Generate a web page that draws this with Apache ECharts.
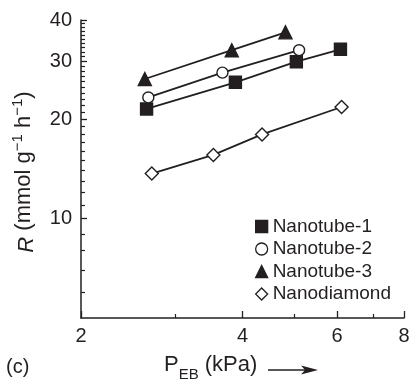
<!DOCTYPE html>
<html><head><meta charset="utf-8">
<script src="https://cdn.jsdelivr.net/npm/echarts@6/dist/echarts.min.js"></script>
<style>html,body{margin:0;padding:0;background:#fff}#c{width:413px;height:384px}</style>
</head><body><div id="c"></div>
<script>
const seriesNames = ['Nanotube-1', 'Nanotube-2', 'Nanotube-3', 'Nanodiamond'];
const nt1X = [2.65, 3.88, 5.04, 6.09];
const nt1Y = [21.5, 25.9, 29.9, 32.6];
const nt2X = [2.67, 3.67, 5.10];
const nt2Y = [23.3, 27.7, 32.4];
const nt3X = [2.63, 3.82, 4.81];
const nt3Y = [26.5, 32.4, 36.7];
const ndX = [2.71, 3.53, 4.35, 6.12];
const ndY = [13.7, 15.6, 18.0, 21.8];
const xMajorTicks = [2, 4, 6, 8];
const xMinorTicks = [3, 5, 7];
const yMajorTicks = [10, 20, 30, 40];
const yMinorTicks = [6, 7, 8, 9, 11, 12, 13, 14, 15, 16, 17, 18, 19, 21, 22, 23, 24, 25, 26, 27, 28, 29, 31, 32, 33, 34, 35, 36, 37, 38, 39];

const INK = '#231f20';
const FONT = 'Liberation Sans, Arial, Helvetica, sans-serif';
const pairs = (xs, ys) => xs.map((x, i) => [x, ys[i]]);

const chart = echarts.init(document.getElementById('c'), null, {renderer: 'canvas'});

const baseX = {type: 'log', logBase: 10, min: 2, max: 8, gridIndex: 0, position: 'bottom', splitLine: {show: false}, minorTick: {show: false}, minorSplitLine: {show: false}};
const baseY = {type: 'log', logBase: 10, min: 5, max: 40, gridIndex: 0, position: 'left', splitLine: {show: false}, minorTick: {show: false}, minorSplitLine: {show: false}};

const markerStyles = [
  {symbol: 'rect', size: 12, fill: INK},
  {symbol: 'circle', size: 11, fill: '#fff'},
  {symbol: 'triangle', size: 13, fill: INK},
  {symbol: 'diamond', size: 13, fill: '#fff'}
];
const dataSets = [pairs(nt1X, nt1Y), pairs(nt2X, nt2Y), pairs(nt3X, nt3Y), pairs(ndX, ndY)];

const series = seriesNames.map((name, i) => ({
  name: name,
  type: 'line',
  xAxisIndex: 0,
  yAxisIndex: 0,
  data: dataSets[i],
  symbol: markerStyles[i].symbol,
  symbolSize: markerStyles[i].size,
  showSymbol: true,
  lineStyle: {color: INK, width: 1.8},
  itemStyle: {color: markerStyles[i].fill, borderColor: INK, borderWidth: 1.4},
  z: 3
}));

chart.setOption({
  animation: false,
  backgroundColor: '#fff',
  grid: {left: 81, right: 9, top: 20, bottom: 66, containLabel: false},
  xAxis: [
    Object.assign({}, baseX, {
      axisLine: {show: true, onZero: false, lineStyle: {color: INK, width: 1.5}},
      axisTick: {show: true, inside: true, length: 7, customValues: xMajorTicks, lineStyle: {color: INK, width: 1.3}},
      axisLabel: {show: true, customValues: xMajorTicks, fontSize: 20, fontFamily: FONT, color: INK, margin: 8}
    }),
    Object.assign({}, baseX, {
      axisLine: {show: false, onZero: false},
      axisTick: {show: true, inside: true, length: 4, customValues: xMinorTicks, lineStyle: {color: INK, width: 1.2}},
      axisLabel: {show: false}
    })
  ],
  yAxis: [
    Object.assign({}, baseY, {
      axisLine: {show: true, onZero: false, lineStyle: {color: INK, width: 1.5}},
      axisTick: {show: true, inside: true, length: 6, customValues: yMajorTicks, lineStyle: {color: INK, width: 1.3}},
      axisLabel: {show: true, customValues: yMajorTicks, fontSize: 20, fontFamily: FONT, color: INK, margin: 9}
    }),
    Object.assign({}, baseY, {
      axisLine: {show: false, onZero: false},
      axisTick: {show: true, inside: true, length: 4, customValues: yMinorTicks, lineStyle: {color: INK, width: 1.2}},
      axisLabel: {show: false}
    })
  ],
  legend: {
    orient: 'vertical',
    left: 255,
    top: 217,
    itemWidth: 12,
    itemHeight: 12,
    itemGap: 3.5,
    padding: 0,
    textStyle: {fontSize: 19, fontFamily: FONT, color: INK, padding: [0, 0, 0, 0]},
    data: seriesNames.map((n, i) => ({name: n, icon: markerStyles[i].symbol, itemStyle: {color: markerStyles[i].fill, borderColor: INK, borderWidth: 1.3}}))
  },
  graphic: [
    {
      type: 'text', x: 24, y: 172, rotation: Math.PI / 2,
      style: {
        text: '{i|R} (mmol g{s|−1} h{s|−1})',
        align: 'center', verticalAlign: 'middle',
        fill: INK, fontSize: 22, fontFamily: FONT,
        rich: {
          i: {fontStyle: 'italic', fontSize: 22, fontFamily: FONT, fill: INK, lineHeight: 28, verticalAlign: 'bottom'},
          s: {fontSize: 15, fontFamily: FONT, fill: INK, lineHeight: 15, verticalAlign: 'top'}
        }
      }
    },
    {
      type: 'text', x: 164, y: 368,
      style: {
        text: '{n|P}{b|EB}{n| (kPa)}',
        align: 'left', verticalAlign: 'middle',
        fill: INK, fontSize: 22, fontFamily: FONT,
        rich: {
          n: {fontSize: 22, fontFamily: FONT, fill: INK, lineHeight: 28, verticalAlign: 'top'},
          b: {fontSize: 15, fontFamily: FONT, fill: INK, lineHeight: 15, verticalAlign: 'bottom'}
        }
      }
    },
    {type: 'line', shape: {x1: 268, y1: 370, x2: 308, y2: 370}, style: {stroke: INK, lineWidth: 1.6}},
    {type: 'polygon', shape: {points: [[301, 365.5], [318, 370], [301, 374.5], [305, 370]]}, style: {fill: INK}},
    {
      type: 'text', x: 6, y: 367,
      style: {text: '(c)', align: 'left', verticalAlign: 'middle', fill: INK, fontSize: 20, fontFamily: FONT}
    }
  ],
  series: series
});
</script>
</body></html>
